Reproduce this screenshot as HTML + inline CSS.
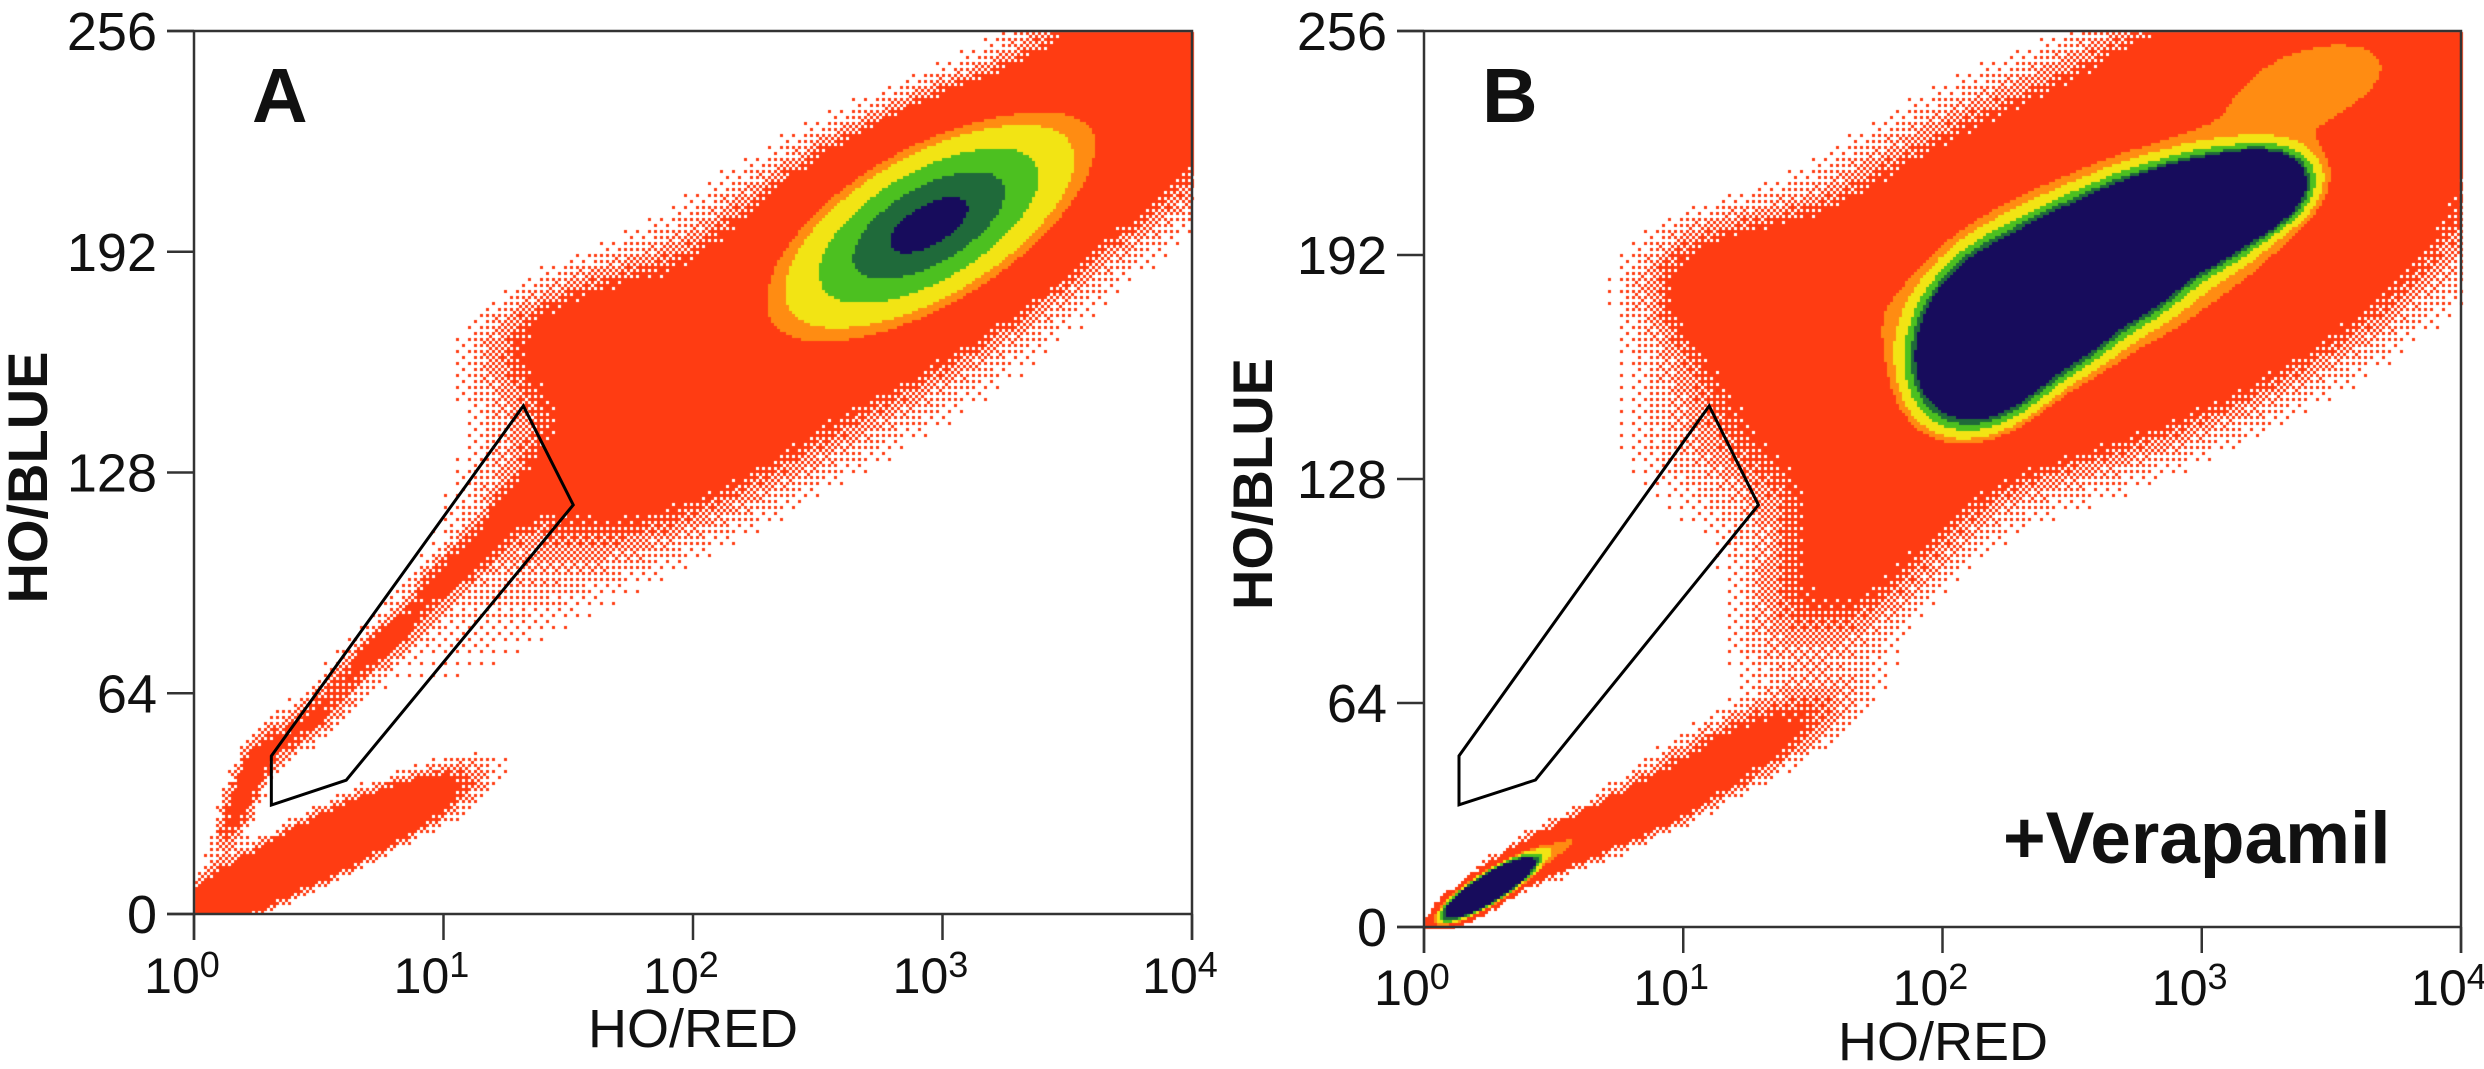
<!DOCTYPE html>
<html><head><meta charset="utf-8"><style>
html,body{margin:0;padding:0;background:#fff;}
#wrap{position:relative;width:2484px;height:1069px;overflow:hidden;}
canvas,svg{position:absolute;left:0;top:0;}
text{font-family:"Liberation Sans",Arial,sans-serif;fill:#111;}
</style></head><body>
<div id="wrap">
<canvas id="cv" width="2484" height="1069"></canvas>
<svg id="sv" width="2484" height="1069"></svg>
</div>
<script>
// ---- data: populations (x in log10 decades of HO/RED, y in HO/BLUE units) ----
const popA_cx =  [2.95, 2.6, 1.9, 3.8, 1.6, 0.45, 0.75, 1.05, 1.35, 1.2, 0.2, 0.4, 0.75];
const popA_cy =  [200, 180, 140, 240, 168, 55, 78, 100, 122, 90, 35, 15, 27];
const popA_sx =  [0.33, 0.65, 0.4, 0.3, 0.3, 0.13, 0.13, 0.13, 0.13, 0.6, 0.08, 0.3, 0.25];
const popA_sy =  [17, 32, 20, 22, 12, 8, 8, 8, 8, 30, 12, 12, 9];
const popA_rho = [0.6, 0.55, 0.5, 0.3, 0.3, 0.85, 0.85, 0.85, 0.85, 0.7, 0.8, 0.9, 0.8];
const popA_w =   [21, 1.5, 1.3, 2, 1.1, 0.9, 0.9, 0.9, 0.9, 0.3, 1.2, 3.5, 1.4];

const popB_cx =  [2.2, 2.45, 2.7, 2.95, 3.15, 2.65, 2.5, 1.4, 3.5, 1.7, 1.2, 0.75, 0.45, 0.25];
const popB_cy =  [170, 182, 193, 203, 209, 190, 188, 180, 246, 110, 50, 30, 20, 11];
const popB_sx =  [0.12, 0.12, 0.12, 0.12, 0.1, 0.65, 0.8, 0.3, 0.4, 0.3, 0.3, 0.25, 0.15, 0.07];
const popB_sy =  [10, 9, 8, 6.5, 5, 28, 36, 12, 15, 25, 12, 9, 6, 3.5];
const popB_rho = [0.3, 0.3, 0.3, 0.3, 0.3, 0.5, 0.55, -0.2, 0.3, 0.6, 0.8, 0.85, 0.85, 0.85];
const popB_w =   [400, 400, 400, 400, 400, 5.5, 1.8, 2, 4, 1.1, 1.1, 2, 4, 400];

const gateA_x = [0.31, 0.31, 0.61, 1.52, 1.32];
const gateA_y = [45.8, 31.6, 38.8, 118.6, 147.3];
const gateB_x = [0.135, 0.135, 0.43, 1.29, 1.10];
const gateB_y = [48.9, 34.9, 42.0, 120.6, 148.9];

const xTickExp = [0, 1, 2, 3, 4];
const yTicks = [0, 64, 128, 192, 256];

// ---- layout ----
const PA = {x0:194, dec:249.5, y0:914, top:31, right:1192, name:'a'};
const PB = {x0:1424, dec:259.25, y0:927, top:31, right:2461, name:'b'};
function sx(P, v){ return P.x0 + v*P.dec; }
function sy(P, v){ return P.y0 - v*(P.y0-P.top)/256; }
function ix(P, px){ return (px-P.x0)/P.dec; }
function iy(P, py){ return (P.y0-py)*256/(P.y0-P.top); }

const ctx = document.getElementById('cv').getContext('2d');
const bayer = [0,8,2,10,12,4,14,6,3,11,1,9,15,7,13,5];
function density(x,y,cx,cy,sxa,sya,rho,w){
  let d=0;
  for(let i=0;i<cx.length;i++){
    const u=(x-cx[i])/sxa[i], v=(y-cy[i])/sya[i], r=rho[i];
    const q=(u*u-2*r*u*v+v*v)/(1-r*r);
    if(q<40) d+=w[i]*Math.exp(-0.5*q);
  }
  return d;
}
function color(d){
  if(d>=20) return '#170c5c';
  if(d>=15) return '#1f6a3a';
  if(d>=10) return '#4cc020';
  if(d>=6) return '#f2e414';
  if(d>=4.5) return '#ff8c12';
  return '#ff3c12';
}
function drawPanel(P, cx, cy, sxa, sya, rho, w){
  const c=3;
  for(let py=P.top+1; py<P.y0; py+=c){
    for(let px=P.x0+1; px<P.right; px+=c){
      const d=density(ix(P,px+1.5), iy(P,py+1.5), cx,cy,sxa,sya,rho,w);
      if(d<0.2) continue;
      if(d<1){
        const b=bayer[((py/c|0)%4)*4+((px/c|0)%4)];
        if((d-0.2)/0.8 < (b+0.5)/16) continue;
      }
      ctx.fillStyle=color(d);
      ctx.fillRect(px,py,c,c);
    }
  }
}
drawPanel(PA, popA_cx, popA_cy, popA_sx, popA_sy, popA_rho, popA_w);
drawPanel(PB, popB_cx, popB_cy, popB_sx, popB_sy, popB_rho, popB_w);

// ---- axes ----
const svg=document.getElementById('sv');
const NS='http://www.w3.org/2000/svg';
function mk(tag, attrs, parent){
  const e=document.createElementNS(NS,tag);
  for(const k in attrs) e.setAttribute(k, attrs[k]);
  (parent||svg).appendChild(e);
  return e;
}
function drawAxes(P, ylabX, xlabBase, xlabCx, xlabY, letter){
  const g=mk('g',{});
  
  
  const st={stroke:'#333','stroke-width':2.5,fill:'none'};
  const f=mk('path',Object.assign({d:`M${P.x0-27},${P.top}H${P.right}V${P.y0+26}M${P.x0},${P.top}V${P.y0+26}M${P.x0-27},${P.y0}H${P.right}`},st),g);
  
  
  yTicks.forEach(v=>{
    const y=sy(P,v);
    const t=mk('line',{x1:P.x0-27,x2:P.x0,y1:y,y2:y,stroke:'#333','stroke-width':2.5},g);
    
    
    const l=mk('text',{x:P.x0-37,y:y+19,'font-size':54,'text-anchor':'end'},g);
    l.textContent=v;
    
    
  });
  xTickExp.forEach(e=>{
    const x=sx(P,e);
    const t=mk('line',{x1:x,x2:x,y1:P.y0,y2:P.y0+26,stroke:'#333','stroke-width':2.5},g);
    
    
    const l=mk('text',{x:x-12,y:xlabBase,'font-size':50,'text-anchor':'middle'},g);
    
    
    const a=mk('tspan',{},l); a.textContent='10';
    const b=mk('tspan',{'font-size':36,dy:-16}); l.appendChild(b); b.textContent=e;
  });
  const xl=mk('text',{x:xlabCx,y:xlabY,'font-size':54,'text-anchor':'middle'},g);
  xl.textContent='HO/RED';
  
  
  const cyy=(P.top+P.y0)/2+5;
  const yl=mk('text',{x:ylabX,y:cyy,'font-size':56,'font-weight':'bold','text-anchor':'middle',transform:`rotate(-90 ${ylabX} ${cyy}) translate(0 20)`},g);
  yl.textContent='HO/BLUE';
  
  
  const pl=mk('text',{x:sx(P,0)+58,y:122,'font-size':77,'font-weight':'bold'},g);
  pl.textContent=letter;
  
  
}
drawAxes(PA, 27, 993, 693, 1047, 'A');
drawAxes(PB, 1252, 1005, 1943, 1060, 'B');

function drawGate(P, gx, gy){
  const pts=gx.map((x,i)=>sx(P,x)+','+sy(P,gy[i])).join(' ');
  const p=mk('polygon',{points:pts,fill:'none',stroke:'#000','stroke-width':3});
  
  
}
drawGate(PA, gateA_x, gateA_y);
drawGate(PB, gateB_x, gateB_y);

const vt=mk('text',{x:2003,y:863,'font-size':73,'font-weight':'bold'});
vt.textContent='+Verapamil';


</script>
</body></html>
